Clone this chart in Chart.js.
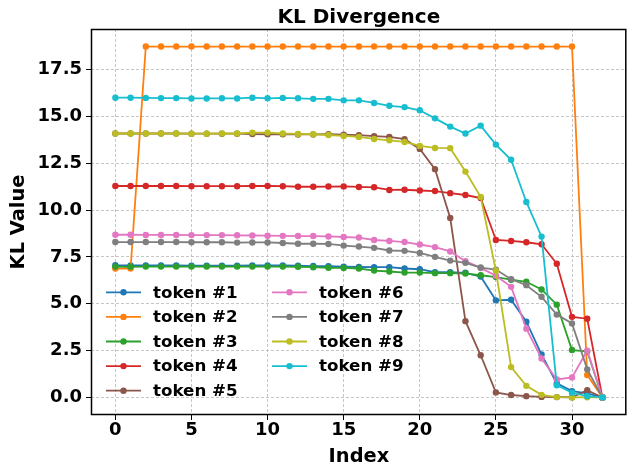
<!DOCTYPE html>
<html>
<head>
<meta charset="utf-8">
<script src="https://cdn.jsdelivr.net/npm/chart.js@4.4.1/dist/chart.umd.min.js"></script>
<style>
  html, body { margin: 0; padding: 0; background: #ffffff; }
  #wrap { width: 630px; height: 465px; }
</style>
</head>
<body>
<div id="wrap"><canvas id="kl" width="630" height="465"></canvas></div>
<script>
// Layer index along the x axis
const indices = [0, 1, 2, 3, 4, 5, 6, 7, 8, 9, 10, 11, 12, 13, 14, 15, 16,
                 17, 18, 19, 20, 21, 22, 23, 24, 25, 26, 27, 28, 29, 30, 31, 32];

// KL divergence per token
const token1 = [7.05, 7.04, 7.04, 7.04, 7.04, 7.03, 7.03, 7.03, 7.03, 7.04, 7.04, 7.04, 7.03, 7.01, 7.00, 6.98, 6.96,
                6.95, 6.95, 6.88, 6.84, 6.68, 6.68, 6.65, 6.45, 5.18, 5.21, 4.04, 2.29, 0.75, 0.34, 0.22, 0.00];
const token2 = [6.88, 6.88, 18.72, 18.72, 18.72, 18.72, 18.72, 18.72, 18.72, 18.72, 18.72, 18.72, 18.72, 18.72, 18.72, 18.72, 18.72,
                18.72, 18.72, 18.72, 18.72, 18.72, 18.72, 18.72, 18.72, 18.72, 18.72, 18.72, 18.72, 18.72, 18.72, 1.20, 0.00];
const token3 = [6.98, 6.97, 6.98, 6.98, 6.98, 6.98, 6.98, 6.98, 6.98, 6.98, 6.98, 6.98, 6.97, 6.95, 6.92, 6.91, 6.88,
                6.77, 6.72, 6.66, 6.66, 6.63, 6.63, 6.61, 6.52, 6.42, 6.28, 6.17, 5.76, 4.95, 2.53, 2.46, 0.00];
const token4 = [11.28, 11.28, 11.28, 11.28, 11.28, 11.27, 11.27, 11.27, 11.27, 11.28, 11.28, 11.27, 11.24, 11.24, 11.25, 11.26, 11.23,
                11.21, 11.07, 11.08, 11.04, 11.01, 10.90, 10.80, 10.64, 8.40, 8.35, 8.28, 8.17, 7.13, 4.30, 4.20, 0.00];
const token5 = [14.08, 14.08, 14.08, 14.08, 14.08, 14.07, 14.07, 14.07, 14.07, 14.05, 14.04, 14.04, 14.03, 14.03, 14.04, 14.02, 13.99,
                13.94, 13.90, 13.78, 13.26, 12.18, 9.57, 4.07, 2.25, 0.27, 0.13, 0.07, 0.03, 0.02, 0.01, 0.39, 0.00];
const token6 = [8.68, 8.68, 8.67, 8.67, 8.67, 8.66, 8.66, 8.66, 8.65, 8.64, 8.63, 8.62, 8.61, 8.61, 8.59, 8.56, 8.53,
                8.40, 8.35, 8.29, 8.16, 8.02, 7.79, 7.27, 6.91, 6.49, 5.90, 3.67, 2.08, 0.96, 1.07, 2.50, 0.00];
const token7 = [8.29, 8.29, 8.29, 8.29, 8.29, 8.28, 8.28, 8.28, 8.26, 8.27, 8.27, 8.24, 8.20, 8.20, 8.19, 8.10, 8.05,
                7.98, 7.84, 7.82, 7.71, 7.50, 7.30, 7.18, 6.93, 6.82, 6.31, 5.99, 5.37, 4.42, 3.95, 1.50, 0.00];
const token8 = [14.08, 14.08, 14.08, 14.08, 14.08, 14.07, 14.07, 14.08, 14.08, 14.13, 14.13, 14.08, 14.06, 14.04, 14.00, 13.95, 13.90,
                13.79, 13.72, 13.63, 13.42, 13.31, 13.30, 12.05, 10.70, 6.76, 1.62, 0.62, 0.14, 0.02, 0.00, 0.01, 0.00];
const token9 = [15.99, 15.99, 15.98, 15.97, 15.97, 15.95, 15.95, 15.96, 15.95, 15.99, 15.96, 15.98, 15.96, 15.93, 15.93, 15.85, 15.85,
                15.71, 15.56, 15.49, 15.32, 14.89, 14.45, 14.08, 14.50, 13.49, 12.68, 10.43, 8.58, 0.65, 0.25, 0.07, 0.00];

const seriesNames = ["token #1", "token #2", "token #3", "token #4", "token #5",
                     "token #6", "token #7", "token #8", "token #9"];
const seriesValues = [token1, token2, token3, token4, token5, token6, token7, token8, token9];
const seriesColors = ["#1f77b4", "#ff7f0e", "#2ca02c", "#d62728", "#8c564b",
                      "#e377c2", "#7f7f7f", "#bcbd22", "#17becf"];

const xTickValues = [0, 5, 10, 15, 20, 25, 30];
const yTickValues = [0, 2.5, 5, 7.5, 10, 12.5, 15, 17.5];

const FONT = "'DejaVu Sans', 'Liberation Sans', sans-serif";

const datasets = seriesNames.map((name, i) => ({
  label: name,
  data: indices.map((x, k) => ({ x: x, y: seriesValues[i][k] })),
  borderColor: seriesColors[i],
  backgroundColor: seriesColors[i],
  pointBackgroundColor: seriesColors[i],
  pointBorderColor: seriesColors[i],
  borderWidth: 1.8,
  pointRadius: 3.2,
  pointBorderWidth: 0,
  pointHoverRadius: 3.2,
  tension: 0,
  fill: false,
  order: seriesNames.length - i
}));

// Title, frame and two-column legend drawn inside the plot area
const decorations = {
  id: 'decorations',
  afterDraw(chart) {
    const ctx = chart.ctx;
    const a = chart.chartArea;
    ctx.save();

    // frame around the axes
    ctx.strokeStyle = '#000000';
    ctx.lineWidth = 1.5;
    ctx.setLineDash([]);
    ctx.strokeRect(a.left + 0.5, a.top + 0.5, a.right - a.left - 1.5, a.bottom - a.top - 1);

    // title
    ctx.fillStyle = '#000000';
    ctx.font = 'bold 20px ' + FONT;
    ctx.textAlign = 'center';
    ctx.textBaseline = 'alphabetic';
    ctx.fillText('KL Divergence', (a.left + a.right) / 2, 22.5);

    // legend
    ctx.font = 'bold 16.7px ' + FONT;
    ctx.textAlign = 'left';
    ctx.textBaseline = 'middle';
    const rowsPerCol = 5;
    const rowY0 = 292.3, rowGap = 24.6;
    const colX = [106, 272];
    chart.data.datasets.forEach((ds, i) => {
      const col = Math.floor(i / rowsPerCol);
      const row = i % rowsPerCol;
      const x0 = colX[col];
      const y = rowY0 + row * rowGap;
      ctx.strokeStyle = ds.borderColor;
      ctx.lineWidth = 1.8;
      ctx.beginPath();
      ctx.moveTo(x0, y);
      ctx.lineTo(x0 + 35, y);
      ctx.stroke();
      ctx.fillStyle = ds.borderColor;
      ctx.beginPath();
      ctx.arc(x0 + 17.5, y, 3.2, 0, Math.PI * 2);
      ctx.fill();
      ctx.fillStyle = '#000000';
      ctx.fillText(ds.label, x0 + 47, y + 1);
    });
    ctx.restore();
  }
};

new Chart(document.getElementById('kl'), {
  type: 'line',
  data: { datasets: datasets },
  plugins: [decorations],
  options: {
    responsive: false,
    devicePixelRatio: 1,
    animation: false,
    events: [],
    layout: { padding: { top: 29, left: 0, right: 0, bottom: 0 } },
    plugins: {
      legend: { display: false },
      title: { display: false },
      tooltip: { enabled: false }
    },
    scales: {
      x: {
        type: 'linear',
        min: -1.6,
        max: 33.6,
        afterBuildTicks(scale) { scale.ticks = xTickValues.map(v => ({ value: v })); },
        afterFit(scale) { scale.height = 50; },
        grid: {
          color: '#b8b8b8',
          lineWidth: 0.8,
          drawTicks: true,
          tickLength: 5,
          tickColor: '#000000',
          tickWidth: 1,
          tickBorderDash: []
        },
        border: { display: false, dash: [3, 2] },
        ticks: {
          color: '#000000',
          padding: 1,
          maxRotation: 0,
          font: { family: FONT, size: 18, weight: 'bold', lineHeight: 1.0 },
          callback: (v) => String(v)
        },
        title: {
          display: true,
          text: 'Index',
          color: '#000000',
          font: { family: FONT, size: 19.4, weight: 'bold', lineHeight: 0.8 },
          padding: { top: 0, bottom: 0 }
        }
      },
      y: {
        type: 'linear',
        min: -0.936,
        max: 19.656,
        afterBuildTicks(scale) { scale.ticks = yTickValues.map(v => ({ value: v })); },
        afterFit(scale) { scale.width = 91; },
        grid: {
          color: '#b8b8b8',
          lineWidth: 0.8,
          drawTicks: true,
          tickLength: 5,
          tickColor: '#000000',
          tickWidth: 1,
          tickBorderDash: []
        },
        border: { display: false, dash: [3, 2] },
        ticks: {
          color: '#000000',
          padding: 4,
          font: { family: FONT, size: 18, weight: 'bold' },
          callback: (v) => Number(v).toFixed(1)
        },
        title: {
          display: true,
          text: 'KL Value',
          color: '#000000',
          font: { family: FONT, size: 19.4, weight: 'bold', lineHeight: 1.2 },
          padding: { top: 7, bottom: 0 }
        }
      }
    }
  }
});
</script>
</body>
</html>
